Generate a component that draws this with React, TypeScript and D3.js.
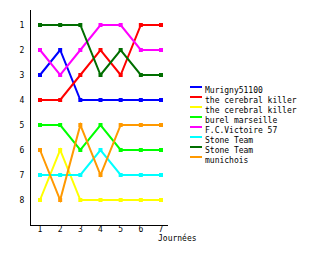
import * as d3 from "d3";
import React, { useRef, useEffect } from "react";

const days = [1, 2, 3, 4, 5, 6, 7];
const ranks = [1, 2, 3, 4, 5, 6, 7, 8];
const teams = [
  "Murigny51100",
  "the cerebral killer",
  "the cerebral killer",
  "burel marseille",
  "F.C.Victoire 57",
  "Stone Team",
  "Stone Team",
  "munichois",
];
const colors = [
  "#0000ff",
  "#ff0000",
  "#ffff00",
  "#00ff00",
  "#ff00ff",
  "#00ffff",
  "#006e00",
  "#ff9900",
];
const murigny = [3, 2, 4, 4, 4, 4, 4];
const cerebral1 = [4, 4, 3, 2, 3, 1, 1];
const cerebral2 = [8, 6, 8, 8, 8, 8, 8];
const burel = [5, 5, 6, 5, 6, 6, 6];
const victoire = [2, 3, 2, 1, 1, 2, 2];
const stone1 = [7, 7, 7, 6, 7, 7, 7];
const stone2 = [1, 1, 1, 3, 2, 3, 3];
const munichois = [6, 8, 5, 7, 5, 5, 5];
const series = [murigny, cerebral1, cerebral2, burel, victoire, stone1, stone2, munichois];

const draw = (node: SVGSVGElement) => {
  const font = "'DejaVu Sans Mono', monospace";
  const svg = d3.select(node);
  svg.selectAll("*").remove();

  const x = d3.scaleLinear().domain([1, 7]).range([40, 161]);
  const y = d3.scaleLinear().domain([1, 8]).range([25, 200]);

  // axes
  svg
    .append("path")
    .attr("d", "M30.5,10V225.5H168")
    .style("fill", "none")
    .style("stroke", "#000")
    .style("stroke-width", 1)
    .style("shape-rendering", "crispEdges");

  svg
    .append("g")
    .selectAll("text")
    .data(ranks)
    .join("text")
    .attr("x", 22)
    .attr("y", (d) => y(d))
    .attr("dy", "0.35em")
    .style("text-anchor", "middle")
    .style("font-family", font)
    .style("font-size", "8px")
    .text((d) => d);

  svg
    .append("g")
    .selectAll("text")
    .data(days)
    .join("text")
    .attr("x", (d) => x(d))
    .attr("y", 229)
    .attr("dy", "0.35em")
    .style("text-anchor", "middle")
    .style("font-family", font)
    .style("font-size", "8px")
    .text((d) => d);

  svg
    .append("text")
    .attr("x", 158)
    .attr("y", 241)
    .style("font-family", font)
    .style("font-size", "8px")
    .text("Journées");

  const line = d3
    .line<number>()
    .x((d, i) => x(days[i]))
    .y((d) => y(d));

  series.forEach((s, k) => {
    const g = svg.append("g");
    g.append("path")
      .datum(s)
      .attr("d", line)
      .style("fill", "none")
      .style("stroke", colors[k])
      .style("stroke-width", "2px");
    g.selectAll("rect")
      .data(s)
      .join("rect")
      .attr("x", (d, i) => x(days[i]) - 2)
      .attr("y", (d) => y(d) - 2)
      .attr("width", 4)
      .attr("height", 4)
      .style("fill", colors[k]);
  });

  // legend
  const leg = svg
    .append("g")
    .selectAll("g")
    .data(teams)
    .join("g")
    .attr("transform", (d, i) => "translate(190," + (86 + i * 10) + ")");
  leg
    .append("rect")
    .attr("x", 0)
    .attr("y", 0)
    .attr("width", 12)
    .attr("height", 2)
    .style("fill", (d, i) => colors[i]);
  leg
    .append("text")
    .attr("x", 15)
    .attr("y", 4)
    .attr("dy", "0.35em")
    .style("font-family", font)
    .style("font-size", "8px")
    .text((d) => d);
};

const App = () => {
  const ref = useRef<SVGSVGElement>(null);
  useEffect(() => {
    if (ref.current) draw(ref.current);
  }, []);
  return (
    <svg
      ref={ref}
      width={310}
      height={255}
      style={{ position: "absolute", left: 0, top: 0, background: "#fff" }}
    />
  );
};

export default App;
